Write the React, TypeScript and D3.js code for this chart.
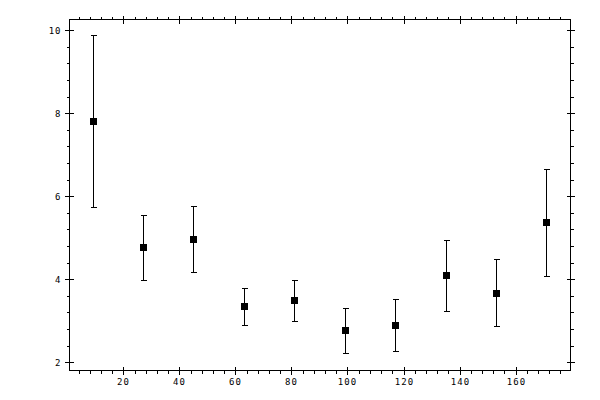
import React from 'react';
import * as d3 from 'd3';

const xValues = [9, 27, 45, 63, 81, 99, 117, 135, 153, 171];
const yValues = [7.81, 4.77, 4.96, 3.35, 3.49, 2.77, 2.9, 4.1, 3.66, 5.37];
const yUpper = [9.88, 5.54, 5.77, 3.78, 3.98, 3.3, 3.52, 4.94, 4.48, 6.65];
const yLower = [5.73, 3.98, 4.18, 2.89, 2.99, 2.22, 2.27, 3.23, 2.87, 4.07];

const xMajor = [20, 40, 60, 80, 100, 120, 140, 160];
const xMinor = d3.range(4, 180, 4).filter(v => v % 20 !== 0);
const yMajor = [2, 4, 6, 8, 10];
const yMinor = d3.range(2, 10.01, 0.4).filter(v => Math.abs(v / 2 - Math.round(v / 2)) > 0.01);

const W = 600;
const H = 400;
const left = 69.5;
const right = 570.5;
const top = 19.5;
const bottom = 370.5;

const App: React.FC = () => {
  const x = d3.scaleLinear().domain([0.78, 179.6]).range([left, right]);
  const y = d3.scaleLinear().domain([1.8, 10.26]).range([bottom, top]);
  const r = (v: number) => Math.round(v) + 0.5;
  const font = '"DejaVu Sans Mono", monospace';
  const cap = 3;

  return (
    <svg width={W} height={H} style={{ position: 'absolute', left: 0, top: 0, background: '#fff' }}
      shapeRendering="crispEdges">
      <rect x={left} y={top} width={right - left} height={bottom - top} fill="none" stroke="#000" strokeWidth={1} />

      {/* x ticks, bottom and top */}
      {xMinor.map(v => (
        <g key={'xm' + v} stroke="#000">
          <line x1={r(x(v))} x2={r(x(v))} y1={bottom} y2={bottom + 3} />
          <line x1={r(x(v))} x2={r(x(v))} y1={top} y2={top - 3} />
        </g>
      ))}
      {xMajor.map(v => (
        <g key={'xM' + v}>
          <line x1={r(x(v))} x2={r(x(v))} y1={bottom - 4} y2={bottom + 4} stroke="#000" />
          <line x1={r(x(v))} x2={r(x(v))} y1={top - 4} y2={top + 4} stroke="#000" />
          <text x={r(x(v))} y={bottom + 14} textAnchor="middle" fontFamily={font} fontSize={9}
            letterSpacing={1} fill="#000">{v}</text>
        </g>
      ))}

      {/* y ticks, left and right */}
      {yMinor.map(v => (
        <g key={'ym' + v} stroke="#000">
          <line x1={left} x2={left - 3} y1={r(y(v))} y2={r(y(v))} />
          <line x1={right} x2={right + 3} y1={r(y(v))} y2={r(y(v))} />
        </g>
      ))}
      {yMajor.map(v => (
        <g key={'yM' + v}>
          <line x1={left - 5} x2={left + 4} y1={r(y(v))} y2={r(y(v))} stroke="#000" />
          <line x1={right - 4} x2={right + 4} y1={r(y(v))} y2={r(y(v))} stroke="#000" />
          <text x={left - 8} y={r(y(v)) + 3} textAnchor="end" fontFamily={font} fontSize={9}
            letterSpacing={1} fill="#000">{v}</text>
        </g>
      ))}

      {/* error bars */}
      {xValues.map((xv, i) => {
        const cx = r(x(xv));
        return (
          <g key={'e' + i} stroke="#000">
            <line x1={cx} x2={cx} y1={r(y(yUpper[i]))} y2={r(y(yLower[i]))} />
            <line x1={cx - cap} x2={cx + cap} y1={r(y(yUpper[i]))} y2={r(y(yUpper[i]))} />
            <line x1={cx - cap} x2={cx + cap} y1={r(y(yLower[i]))} y2={r(y(yLower[i]))} />
          </g>
        );
      })}

      {/* markers */}
      {xValues.map((xv, i) => (
        <rect key={'p' + i} x={Math.round(x(xv)) - 3} y={Math.round(y(yValues[i])) - 3}
          width={7} height={7} fill="#000" />
      ))}
    </svg>
  );
};

export default App;
